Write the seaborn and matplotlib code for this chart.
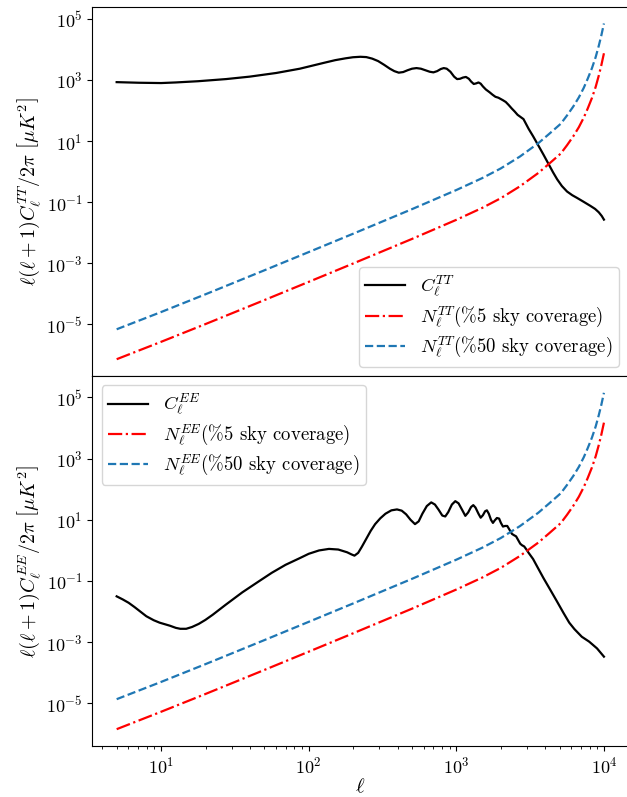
import numpy as np
import matplotlib
matplotlib.use("Agg")
import matplotlib.pyplot as plt
import seaborn as sns

# ---------------- data (log10 units) ----------------
# TT power spectrum  D_ell = ell(ell+1)C_ell/2pi
log_ell_tt = [0.699, 0.85, 1.0, 1.1, 1.25, 1.44, 1.6, 1.78, 1.94, 2.11, 2.18, 2.25,
              2.30, 2.35, 2.39, 2.43, 2.47, 2.51, 2.55, 2.58, 2.61, 2.64, 2.67,
              2.70, 2.73, 2.76, 2.79, 2.82, 2.845, 2.87, 2.895, 2.915, 2.935,
              2.96, 2.985, 3.005, 3.025, 3.045, 3.065, 3.085, 3.10, 3.118, 3.135,
              3.15, 3.165, 3.18, 3.20, 3.225, 3.245, 3.265, 3.285, 3.30, 3.315,
              3.335, 3.355, 3.375, 3.395, 3.415, 3.435, 3.455, 3.49, 3.52, 3.547,
              3.59, 3.626, 3.655, 3.683, 3.715, 3.75, 3.785, 3.818, 3.86, 3.908,
              3.94, 3.965, 3.985, 4.0]
log_cl_tt = [2.93, 2.91, 2.90, 2.92, 2.96, 3.03, 3.11, 3.23, 3.37, 3.57, 3.65, 3.71,
             3.745, 3.76, 3.75, 3.70, 3.62, 3.50, 3.37, 3.29, 3.24, 3.26, 3.32,
             3.37, 3.39, 3.37, 3.32, 3.27, 3.25, 3.29, 3.36, 3.39, 3.37,
             3.27, 3.11, 3.03, 3.04, 3.08, 3.10, 3.04, 2.95, 2.87, 2.89,
             2.92, 2.88, 2.79, 2.69, 2.60, 2.52, 2.45, 2.42, 2.38, 2.34,
             2.28, 2.18, 2.07, 1.97, 1.86, 1.79, 1.72, 1.40, 1.16, 0.93,
             0.56, 0.24, -0.02, -0.25, -0.47, -0.65, -0.77, -0.86, -0.98, -1.12,
             -1.22, -1.33, -1.45, -1.57]

# EE power spectrum
log_ell_ee = [0.699, 0.74, 0.78, 0.82, 0.86, 0.90, 0.95, 0.99, 1.06, 1.10, 1.13,
              1.17, 1.21, 1.255, 1.30, 1.35, 1.436, 1.55, 1.662, 1.75, 1.843, 1.94,
              2.0, 2.07, 2.137, 2.20, 2.26, 2.29, 2.31, 2.335, 2.36, 2.39, 2.42,
              2.45, 2.485, 2.52, 2.56, 2.598, 2.63, 2.66, 2.69, 2.72, 2.745, 2.77,
              2.80, 2.83, 2.855, 2.88, 2.905, 2.925, 2.945, 2.97, 2.993, 3.015,
              3.04, 3.061, 3.08, 3.10, 3.115, 3.13, 3.15, 3.165, 3.18, 3.195,
              3.207, 3.22, 3.235, 3.248, 3.26, 3.275, 3.29, 3.302, 3.316, 3.33,
              3.345, 3.36, 3.377, 3.39, 3.405, 3.42, 3.433, 3.445, 3.46, 3.475,
              3.49, 3.52, 3.547, 3.59, 3.637, 3.68, 3.727, 3.765, 3.80, 3.85,
              3.90, 3.953, 4.0]
log_cl_ee = [-1.50, -1.60, -1.71, -1.85, -2.00, -2.15, -2.28, -2.36, -2.46, -2.53, -2.56,
             -2.56, -2.50, -2.40, -2.27, -2.10, -1.78, -1.37, -1.01, -0.73, -0.47, -0.25,
             -0.11, 0.00, 0.05, 0.03, -0.06, -0.13, -0.17, -0.08, 0.12, 0.38, 0.64,
             0.86, 1.05, 1.20, 1.31, 1.34, 1.30, 1.18, 1.00, 0.86, 0.95, 1.20,
             1.45, 1.57, 1.50, 1.33, 1.14, 1.11, 1.25, 1.50, 1.61, 1.54,
             1.32, 1.13, 1.24, 1.42, 1.48, 1.40, 1.20, 1.07, 1.15, 1.28,
             1.31, 1.20, 1.00, 0.90, 0.98, 1.06, 1.04, 0.90, 0.78, 0.80,
             0.80, 0.68, 0.54, 0.50, 0.46, 0.33, 0.22, 0.17, 0.13, 0.03,
             -0.08, -0.28, -0.52, -0.90, -1.29, -1.65, -2.05, -2.36, -2.57, -2.82,
             -2.98, -3.20, -3.47]

# Noise curves
log_ell_noise = [0.699, 1.0, 1.301, 1.699, 2.0, 2.301, 2.699, 3.0, 3.176, 3.301,
                 3.431, 3.556, 3.63, 3.708, 3.75, 3.792, 3.83, 3.863, 3.89, 3.919,
                 3.944, 3.964, 3.982, 4.0]
log_ntt_50 = [-5.16, -4.596, -4.014, -3.231, -2.633, -2.032, -1.229, -0.602, -0.21,
              0.105, 0.495, 0.934, 1.24, 1.57, 1.84, 2.13, 2.43, 2.74, 3.04, 3.39,
              3.75, 4.10, 4.45, 4.85]
log_ntt_5 = [-6.14, -5.571, -4.989, -4.206, -3.608, -3.007, -2.204, -1.577, -1.185,
             -0.87, -0.48, -0.041, 0.265, 0.595, 0.865, 1.155, 1.455, 1.765, 2.065,
             2.415, 2.775, 3.125, 3.475, 3.875]
log_nee_50 = [-4.86, -4.296, -3.714, -2.931, -2.333, -1.732, -0.929, -0.302, 0.09,
              0.405, 0.795, 1.234, 1.54, 1.87, 2.14, 2.43, 2.73, 3.04, 3.34, 3.69,
              4.05, 4.40, 4.75, 5.15]
log_nee_5 = [-5.84, -5.271, -4.689, -3.906, -3.308, -2.707, -1.904, -1.277, -0.885,
             -0.57, -0.18, 0.259, 0.565, 0.895, 1.165, 1.455, 1.755, 2.065, 2.365,
             2.715, 3.075, 3.425, 3.775, 4.175]

labels_tt = [r"$C_\ell^{TT}$",
             r"$N_\ell^{TT}$(%5 sky coverage)",
             r"$N_\ell^{TT}$(%50 sky coverage)"]
labels_ee = [r"$C_\ell^{EE}$",
             r"$N_\ell^{EE}$(%5 sky coverage)",
             r"$N_\ell^{EE}$(%50 sky coverage)"]

# ---------------- style ----------------
plt.rcParams.update({
    "font.family": ["cmr10", "DejaVu Serif"],
    "mathtext.fontset": "cm",
    "axes.formatter.use_mathtext": True,
    "axes.unicode_minus": False,
    "font.size": 13,
})

W, H = 627, 797
fig = plt.figure(figsize=(W / 100, H / 100), dpi=100)
left = 92.3 / W
width = (628.3 - 92.3) / W
ax1 = fig.add_axes([left, (H - 376) / H, width, (376 - 6.7) / H])
ax2 = fig.add_axes([left, (H - 746) / H, width, (746 - 376) / H], sharex=ax1)


def draw(ax, lell_c, lcl, ln5, ln50, labels):
    sns.lineplot(x=10 ** np.array(lell_c), y=10 ** np.array(lcl), ax=ax,
                 color="black", linewidth=1.6, label=labels[0])
    sns.lineplot(x=10 ** np.array(log_ell_noise), y=10 ** np.array(ln5), ax=ax,
                 color="red", linestyle="-.", linewidth=1.6, label=labels[1])
    sns.lineplot(x=10 ** np.array(log_ell_noise), y=10 ** np.array(ln50), ax=ax,
                 color="#1f77b4", linestyle="--", linewidth=1.6, label=labels[2])
    ax.set_xscale("log")
    ax.set_yscale("log")
    ax.tick_params(labelsize=13)


draw(ax1, log_ell_tt, log_cl_tt, log_ntt_5, log_ntt_50, labels_tt)
draw(ax2, log_ell_ee, log_cl_ee, log_nee_5, log_nee_50, labels_ee)

ax1.set_ylabel(r"$\ell(\ell+1)C_\ell^{TT}/2\pi\ \left[\mu K^2\right]$", fontsize=14.5,
               labelpad=2)
ax2.set_ylabel(r"$\ell(\ell+1)C_\ell^{EE}/2\pi\ \left[\mu K^2\right]$", fontsize=14.5,
               labelpad=2)
ax2.set_xlabel(r"$\ell$", fontsize=15, labelpad=1)
ax1.tick_params(labelbottom=False)
ax1.set_xlabel("")

leg_kw = dict(fontsize=13.5, labelspacing=0.25, borderpad=0.35, handlelength=2.1)
ax1.legend(loc="lower right", **leg_kw)
ax2.legend(loc="upper left", **leg_kw)

fig.savefig("out.png", dpi=100)
